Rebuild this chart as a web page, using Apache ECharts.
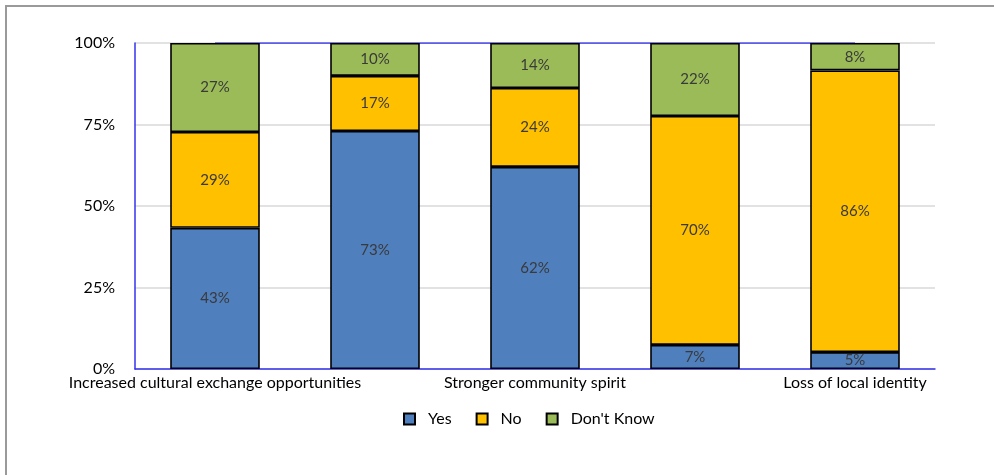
<!DOCTYPE html>
<html>
<head>
<meta charset="utf-8">
<script src="https://cdn.jsdelivr.net/npm/echarts@6/dist/echarts.min.js"></script>
<style>
  html, body { margin: 0; padding: 0; background: #fff; }
  #chart { width: 994px; height: 475px; }
</style>
</head>
<body>
<div id="chart"></div>
<script>
// categories and shares (percent)
var categories = [
  'Increased cultural exchange opportunities',
  'Wider cultural offer',
  'Stronger community spirit',
  'Overcrowding',
  'Loss of local identity'
];
var yesValues = [43.3, 73.0, 62.0, 7.4, 5.2];
var noValues = [29.4, 16.9, 24.2, 70.2, 86.4];
var dontKnowValues = [27.3, 10.1, 13.8, 22.4, 8.4];
var yTicks = [0, 25, 50, 75, 100];

var chart = echarts.init(document.getElementById('chart'));

function barSeries(name, data, color) {
  return {
    name: name,
    type: 'bar',
    stack: 'total',
    barWidth: '56%',
    data: data,
    itemStyle: { color: color, borderColor: '#000', borderWidth: 1.6 },
    label: {
      show: true,
      position: 'inside',
      color: '#3a3a3a',
      fontSize: 15,
      fontFamily: 'Lato',
      formatter: function (p) { return Math.round(p.value) + '%'; }
    }
  };
}

var option = {
  animation: false,
  backgroundColor: '#fff',
  graphic: [{
    type: 'rect',
    shape: { x: 6, y: 6, width: 1200, height: 800 },
    style: { fill: 'none', stroke: '#9a9a9a', lineWidth: 2 },
    silent: true
  }],
  grid: { left: 135, right: 59, top: 43, bottom: 106 },
  legend: {
    top: 406,
    left: 398,
    itemWidth: 11,
    itemHeight: 11,
    itemGap: 24,
    icon: 'rect',
    textStyle: { fontSize: 16, color: '#000', fontFamily: 'Lato', padding: [0, 0, 0, 8] },
    data: ['Yes', 'No', "Don't Know"]
  },
  xAxis: {
    type: 'category',
    data: categories,
    axisLine: { show: true, lineStyle: { color: '#3333ee', width: 1.5 } },
    axisTick: { show: false },
    axisLabel: { interval: 1, color: '#000', fontSize: 16, fontFamily: 'Lato', margin: 6 }
  },
  yAxis: {
    type: 'value',
    min: 0,
    max: 100,
    interval: 25,
    axisLine: { show: true, lineStyle: { color: '#3333ee', width: 1.5 } },
    axisTick: { show: false },
    splitLine: { lineStyle: { color: '#d9d9d9', width: 1.5 } },
    axisLabel: {
      color: '#000', fontSize: 16, fontFamily: 'Lato', margin: 20,
      formatter: function (v) { return yTicks.indexOf(v) >= 0 ? v + '%' : ''; }
    }
  },
  series: [
    barSeries('Yes', yesValues, '#4f7fbd'),
    barSeries('No', noValues, '#ffc000'),
    barSeries("Don't Know", dontKnowValues, '#9bbb59'),
    {
      // top border line of plot area
      type: 'line',
      data: categories.map(function () { return 100; }),
      symbol: 'none',
      silent: true,
      lineStyle: { color: '#3333ee', width: 1.5 },
      z: 1
    }
  ]
};
chart.setOption(option);
</script>
</body>
</html>
